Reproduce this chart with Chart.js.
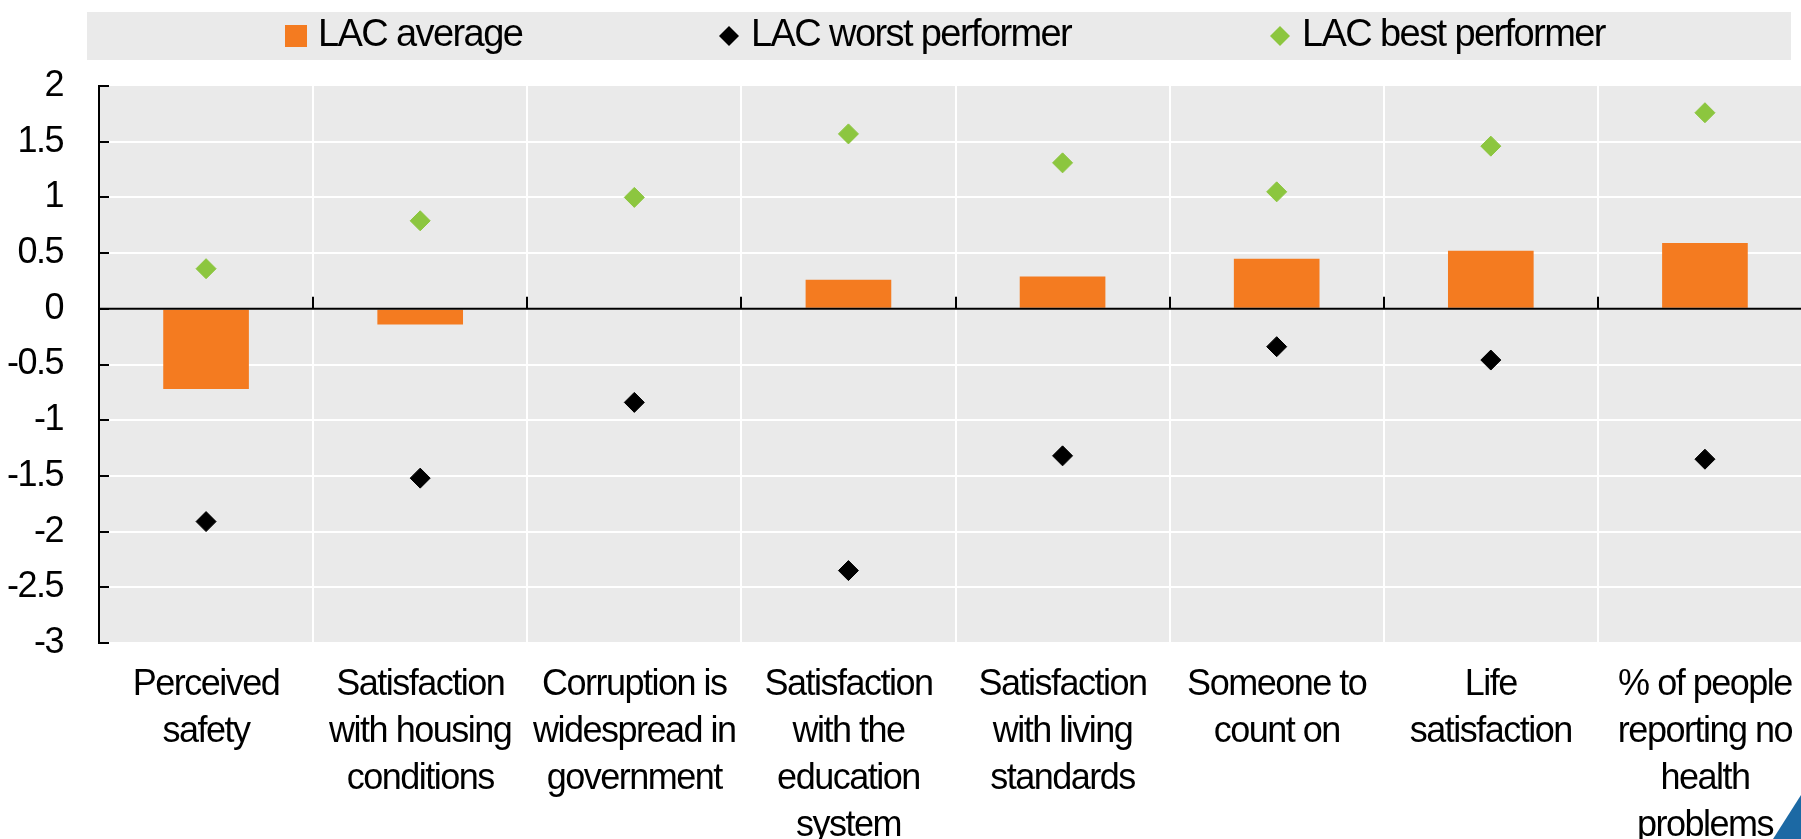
<!DOCTYPE html>
<html>
<head>
<meta charset="utf-8">
<script src="https://cdn.jsdelivr.net/npm/chart.js@4.4.1/dist/chart.umd.min.js"></script>
<style>
    html, body { margin: 0; padding: 0; overflow: hidden; background: #fff; }
    #wrap { position: relative; width: 1823px; height: 839px; }
    #corner {
        position: absolute; left: 1773px; top: 795px; width: 28px; height: 44px;
        background: #1c69a4; clip-path: polygon(100% 0, 100% 100%, 0 100%);
    }
</style>
</head>
<body>
<div id="wrap">
    <canvas id="wellbeingChart" width="1823" height="839"></canvas>
    <div id="corner"></div>
</div>
<script>
const categories = [
    ['Perceived', 'safety'],
    ['Satisfaction', 'with housing', 'conditions'],
    ['Corruption is', 'widespread in', 'government'],
    ['Satisfaction', 'with the', 'education', 'system'],
    ['Satisfaction', 'with living', 'standards'],
    ['Someone to', 'count on'],
    ['Life', 'satisfaction'],
    ['% of people', 'reporting no', 'health', 'problems']
];
const lacAverage = [-0.72, -0.14, 0, 0.26, 0.29, 0.45, 0.52, 0.59];
const lacWorst = [-1.91, -1.52, -0.84, -2.35, -1.32, -0.34, -0.46, -1.35];
const lacBest = [0.36, 0.79, 1.0, 1.57, 1.31, 1.05, 1.46, 1.76];
const yTicks = [2, 1.5, 1, 0.5, 0, -0.5, -1, -1.5, -2, -2.5, -3];

const FONT = '"Liberation Sans Narrow", "Arial Narrow", "Liberation Sans", Arial, sans-serif';
const ORANGE = '#f47b20';
const GREEN = '#8cc63f';
const PLOT_BG = '#eaeaea';
// the original uses a narrow face; tighten the regular one instead
const TIGHT = '-1.5px';

const decorations = {
    id: 'decorations',
    beforeInit(chart) { chart.ctx.letterSpacing = TIGHT; },
    beforeUpdate(chart) { chart.ctx.letterSpacing = TIGHT; },
    beforeDraw(chart) {
        const { ctx, chartArea } = chart;
        ctx.letterSpacing = TIGHT;
        ctx.save();
        ctx.fillStyle = PLOT_BG;
        ctx.fillRect(chartArea.left, chartArea.top, chartArea.right - chartArea.left, chartArea.bottom - chartArea.top);
        ctx.fillRect(87, 12, 1704, 48);
        ctx.restore();
    },
    afterDatasetsDraw(chart) {
        const { ctx, chartArea, scales: { x, y } } = chart;
        const y0 = y.getPixelForValue(0);
        const step = (x.right - x.left) / categories.length;
        ctx.save();
        ctx.strokeStyle = '#000';
        ctx.lineWidth = 2;
        ctx.beginPath();
        ctx.moveTo(chartArea.left, y0);
        ctx.lineTo(chartArea.right, y0);
        y.ticks.forEach(t => {
            const py = Math.round(y.getPixelForValue(t.value));
            ctx.moveTo(chartArea.left, py);
            ctx.lineTo(chartArea.left + 10, py);
        });
        for (let i = 1; i <= categories.length; i++) {
            const px = Math.round(x.left + i * step);
            ctx.moveTo(px, y0);
            ctx.lineTo(px, y0 - 12);
        }
        ctx.stroke();
        ctx.restore();
    },
    afterDraw(chart) {
        const { ctx } = chart;
        const ds = chart.data.datasets;
        // marker centre and text start for each legend entry
        const markerX = [296, 729, 1280];
        const textX = [318, 751, 1302];
        const cy = 36;
        ctx.save();
        ctx.font = '38px ' + FONT;
        ctx.letterSpacing = '-1.6px';
        ctx.textBaseline = 'middle';
        ds.forEach((d, i) => {
            const mx = markerX[i];
            ctx.fillStyle = d.backgroundColor;
            if (d.type === 'bar') {
                ctx.fillRect(mx - 11, 25, 22, 22);
            } else {
                ctx.beginPath();
                ctx.moveTo(mx, cy - 10);
                ctx.lineTo(mx + 10, cy);
                ctx.lineTo(mx, cy + 10);
                ctx.lineTo(mx - 10, cy);
                ctx.closePath();
                ctx.fill();
            }
            ctx.fillStyle = '#000';
            ctx.fillText(d.label, textX[i], cy);
        });
        ctx.restore();
    }
};

const ctx = document.getElementById('wellbeingChart');

new Chart(ctx, {
    data: {
        labels: categories,
        datasets: [
            {
                type: 'bar',
                label: 'LAC average',
                data: lacAverage,
                backgroundColor: ORANGE,
                barPercentage: 0.4,
                categoryPercentage: 1,
                order: 3
            },
            {
                type: 'line',
                label: 'LAC worst performer',
                data: lacWorst,
                showLine: false,
                backgroundColor: '#000',
                borderColor: '#000',
                pointStyle: 'rectRot',
                pointRadius: 10,
                pointBorderWidth: 1,
                order: 2
            },
            {
                type: 'line',
                label: 'LAC best performer',
                data: lacBest,
                showLine: false,
                backgroundColor: GREEN,
                borderColor: GREEN,
                pointStyle: 'rectRot',
                pointRadius: 10,
                pointBorderWidth: 1,
                order: 1
            }
        ]
    },
    options: {
        responsive: false,
        animation: false,
        devicePixelRatio: 1,
        // plot area runs a little past the right edge of the picture
        layout: { padding: { top: 86, right: 0, left: 0, bottom: 0 } },
        plugins: {
            legend: { display: false },
            tooltip: { enabled: false }
        },
        scales: {
            x: {
                offset: true,
                grid: { offset: true, color: '#fff', lineWidth: 2, drawTicks: false },
                border: { display: false },
                ticks: {
                    color: '#000',
                    font: { family: FONT, size: 36, lineHeight: 1.3 },
                    padding: 19,
                    maxRotation: 0,
                    autoSkip: false
                },
                afterFit(scale) {
                    scale.height = 196;
                    scale.paddingLeft = 0;
                    scale.paddingRight = 0;
                }
            },
            y: {
                min: -3,
                max: 2,
                afterBuildTicks(scale) { scale.ticks = yTicks.map(v => ({ value: v })); },
                grid: {
                    color: c => (c.tick && c.tick.value === 2) ? 'rgba(0,0,0,0)' : '#fff',
                    lineWidth: 2,
                    drawTicks: false
                },
                border: { display: true, color: '#000', width: 2 },
                ticks: {
                    color: '#000',
                    font: { family: FONT, size: 36 },
                    padding: 36,
                    callback: v => String(v)
                },
                afterFit(scale) {
                    scale.width = 99;
                    scale.paddingTop = 0;
                    scale.paddingBottom = 0;
                }
            }
        }
    },
    plugins: [decorations]
});
</script>
</body>
</html>
